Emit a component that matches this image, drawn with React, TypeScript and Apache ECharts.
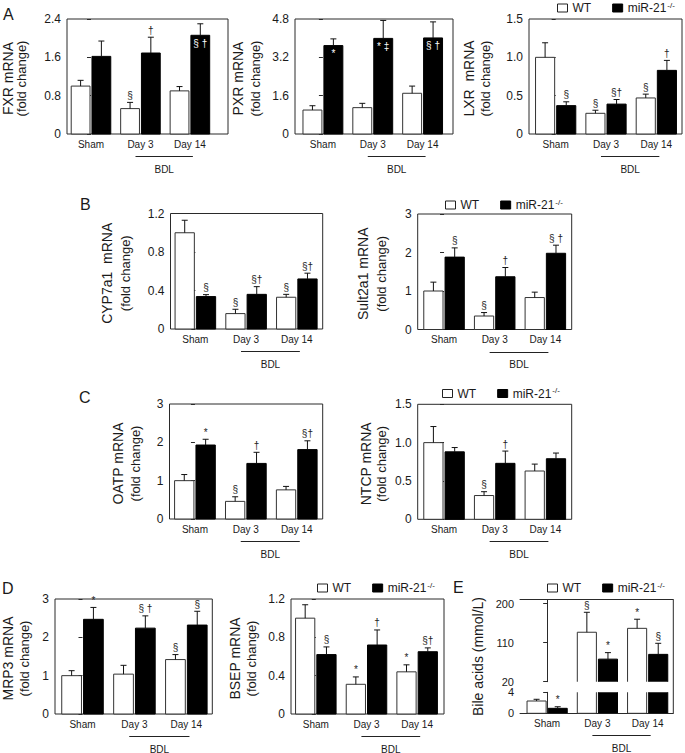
import React, { useEffect, useRef } from 'react';
import * as echarts from 'echarts';

const groups = ['Sham', 'Day 3', 'Day 14'];
const KO = 'miR-21-/-';

// A: FXR
const fxrWT = [1.0, 0.53, 0.9];
const fxrWTErr = [0.12, 0.13, 0.09];
const fxrWTNote = ['', '§', ''];
const fxrKO = [1.62, 1.69, 2.06];
const fxrKOErr = [0.32, 0.33, 0.24];
const fxrKONote = ['', '†', '§ †'];
const fxrTicks = [0, 0.8, 1.6, 2.4];
// A: PXR
const pxrWT = [1.0, 1.1, 1.7];
const pxrWTErr = [0.18, 0.18, 0.3];
const pxrWTNote = ['', '', ''];
const pxrKO = [3.69, 3.99, 4.01];
const pxrKOErr = [0.28, 0.75, 0.67];
const pxrKONote = ['*', '* ‡', '§ †'];
const pxrTicks = [0, 1.6, 3.2, 4.8];
// A: LXR
const lxrWT = [1.0, 0.27, 0.47];
const lxrWTErr = [0.19, 0.04, 0.05];
const lxrWTNote = ['', '§', '§'];
const lxrKO = [0.37, 0.39, 0.83];
const lxrKOErr = [0.05, 0.06, 0.13];
const lxrKONote = ['§', '§†', '†'];
const lxrTicks = [0, 0.5, 1.0, 1.5];
// B: CYP7a1
const cypWT = [1.0, 0.16, 0.33];
const cypWTErr = [0.13, 0.045, 0.03];
const cypWTNote = ['', '§', '§'];
const cypKO = [0.337, 0.36, 0.52];
const cypKOErr = [0.02, 0.08, 0.06];
const cypKONote = ['§', '§†', '§†'];
const cypTicks = [0, 0.4, 0.8, 1.2];
// B: Sult2a1
const sultWT = [1.0, 0.35, 0.83];
const sultWTErr = [0.23, 0.09, 0.14];
const sultWTNote = ['', '§', ''];
const sultKO = [1.88, 1.37, 1.98];
const sultKOErr = [0.24, 0.24, 0.21];
const sultKONote = ['§', '†', '§ †'];
const sultTicks = [0, 1, 2, 3];
// C: OATP
const oatpWT = [1.0, 0.46, 0.76];
const oatpWTErr = [0.16, 0.12, 0.09];
const oatpWTNote = ['', '§', ''];
const oatpKO = [1.93, 1.45, 1.81];
const oatpKOErr = [0.15, 0.29, 0.23];
const oatpKONote = ['*', '†', '§†'];
const oatpTicks = [0, 1, 2, 3];
// C: NTCP
const ntcpWT = [1.0, 0.31, 0.63];
const ntcpWTErr = [0.21, 0.05, 0.09];
const ntcpWTNote = ['', '§', ''];
const ntcpKO = [0.88, 0.73, 0.79];
const ntcpKOErr = [0.056, 0.16, 0.074];
const ntcpKONote = ['', '†', ''];
const ntcpTicks = [0, 0.5, 1.0, 1.5];
// D: MRP3
const mrp3WT = [1.0, 1.04, 1.42];
const mrp3WTErr = [0.13, 0.23, 0.13];
const mrp3WTNote = ['', '', '§'];
const mrp3KO = [2.47, 2.24, 2.32];
const mrp3KOErr = [0.31, 0.32, 0.36];
const mrp3KONote = ['*', '§ †', '§'];
const mrp3Ticks = [0, 1, 2, 3];
// D: BSEP
const bsepWT = [1.0, 0.31, 0.44];
const bsepWTErr = [0.14, 0.077, 0.073];
const bsepWTNote = ['', '*', '*'];
const bsepKO = [0.62, 0.72, 0.65];
const bsepKOErr = [0.08, 0.157, 0.04];
const bsepKONote = ['§', '†', '§†'];
const bsepTicks = [0, 0.4, 0.8, 1.2];
// E: Bile acids
const bileWT = [2.34, 134, 143];
const bileWTErr = [0.33, 46, 21];
const bileWTNote = ['', '§', '*'];
const bileKO = [0.95, 72, 83];
const bileKOErr = [0.3, 15, 25.5];
const bileKONote = ['*', '*', '§'];
const bileUpperTicks = [20, 110, 200];
const bileUpperMax = 209;
const bileLowerTicks = [0, 4];

const FONT = 'Liberation Sans, Arial, Helvetica, sans-serif';
const AX = '#2a2a2a';
const TXT = '#1a1a1a';
const BAR_W = 0.38;
const OFF = 0.21;

const panels = [
  { n1: 'FXR mRNA', wt: fxrWT, wtErr: fxrWTErr, wtNote: fxrWTNote, ko: fxrKO, koErr: fxrKOErr, koNote: fxrKONote, koIn: [false, false, true], ticks: fxrTicks, dec: 1, box: [67, 19, 228, 134], xr: [-0.485, 2.77], nx: [7.5, 21.5] },
  { n1: 'PXR mRNA', wt: pxrWT, wtErr: pxrWTErr, wtNote: pxrWTNote, ko: pxrKO, koErr: pxrKOErr, koNote: pxrKONote, koIn: [true, true, true], ticks: pxrTicks, dec: 1, box: [295, 19, 453, 134], xr: [-0.56, 2.61], nx: [237.5, 255.5] },
  { n1: 'LXR  mRNA', wt: lxrWT, wtErr: lxrWTErr, wtNote: lxrWTNote, ko: lxrKO, koErr: lxrKOErr, koNote: lxrKONote, koIn: [false, false, false], ticks: lxrTicks, dec: 1, box: [529, 19, 682, 134], xr: [-0.53, 2.51], nx: [468.5, 485.5] },
  { n1: 'CYP7a1  mRNA', wt: cypWT, wtErr: cypWTErr, wtNote: cypWTNote, ko: cypKO, koErr: cypKOErr, koNote: cypKONote, koIn: [false, false, false], ticks: cypTicks, dec: 1, box: [170.5, 213.5, 322.7, 329], xr: [-0.49, 2.51], nx: [106.5, 125.5] },
  { n1: 'Sult2a1 mRNA', wt: sultWT, wtErr: sultWTErr, wtNote: sultWTNote, ko: sultKO, koErr: sultKOErr, koNote: sultKONote, koIn: [false, false, false], ticks: sultTicks, dec: 0, box: [417.7, 214, 571.7, 329.5], xr: [-0.52, 2.52], nx: [363, 381.5] },
  { n1: 'OATP mRNA', wt: oatpWT, wtErr: oatpWTErr, wtNote: oatpWTNote, ko: oatpKO, koErr: oatpKOErr, koNote: oatpKONote, koIn: [false, false, false], ticks: oatpTicks, dec: 0, box: [169.5, 404, 322.7, 519], xr: [-0.5, 2.51], nx: [117.5, 135] },
  { n1: 'NTCP mRNA', wt: ntcpWT, wtErr: ntcpWTErr, wtNote: ntcpWTNote, ko: ntcpKO, koErr: ntcpKOErr, koNote: ntcpKONote, koIn: [false, false, false], ticks: ntcpTicks, dec: 1, box: [417.7, 404.3, 571.7, 519.3], xr: [-0.52, 2.52], nx: [365.5, 381.5] },
  { n1: 'MRP3 mRNA', wt: mrp3WT, wtErr: mrp3WTErr, wtNote: mrp3WTNote, ko: mrp3KO, koErr: mrp3KOErr, koNote: mrp3KONote, koIn: [false, false, false], ticks: mrp3Ticks, dec: 0, box: [55, 599, 212.3, 714], xr: [-0.53, 2.5], nx: [7.5, 24] },
  { n1: 'BSEP mRNA', wt: bsepWT, wtErr: bsepWTErr, wtNote: bsepWTNote, ko: bsepKO, koErr: bsepKOErr, koNote: bsepKONote, koIn: [false, false, false], ticks: bsepTicks, dec: 1, box: [291, 599, 444, 714], xr: [-0.49, 2.53], nx: [235, 251] },
];

const eBox = { left: 520, right: 673.3, top: 599.7, upBottom: 681.7, lowTop: 692.3, bottom: 713.3, xr: [-0.54, 2.51] };

const legendPos = [[557, 8], [445, 205], [442, 393.5], [317, 588], [547, 588]];
const letters: [string, number, number][] = [['A', 3, 14.5], ['B', 80, 204], ['C', 79, 397], ['D', 2, 588], ['E', 453, 587.5]];

const fmt = (dec: number) => (v: number) => (v === 0 ? '0' : v.toFixed(dec));

function barSeries(name: string, g: number, offset: number, vals: number[], errs: number[], notes: string[], inside: boolean[] | null, fill: string, stroke: string, clip: boolean) {
  return {
    type: 'custom',
    name,
    xAxisIndex: g,
    yAxisIndex: g,
    clip,
    silent: true,
    itemStyle: { color: fill, borderColor: stroke, borderWidth: 1 },
    encode: { x: 0, y: 1 },
    data: vals.map((v, i) => [i + offset, v, errs[i]]),
    renderItem: (params: any, api: any) => {
      const cs = params.coordSys;
      const yTop = cs.y;
      const yBot = cs.y + cs.height;
      const x = api.value(0);
      const v = api.value(1);
      const e = api.value(2);
      const tl = api.coord([x - BAR_W / 2, v]);
      const br = api.coord([x + BAR_W / 2, 0]);
      const top = api.coord([x, v + e]);
      const cx = (tl[0] + br[0]) / 2;
      const children: any[] = [
        { type: 'rect', shape: { x: tl[0], y: tl[1], width: br[0] - tl[0], height: br[1] - tl[1] }, style: { fill, stroke, lineWidth: 1 } },
      ];
      const ey1 = Math.min(Math.max(tl[1], yTop), yBot);
      const ey2 = Math.min(Math.max(top[1], yTop), yBot);
      if (ey1 - ey2 > 0.1) {
        children.push({ type: 'line', shape: { x1: cx, y1: ey1, x2: cx, y2: ey2 }, style: { stroke: '#111', lineWidth: 1 } });
      }
      if (top[1] >= yTop && top[1] <= yBot) {
        children.push({ type: 'line', shape: { x1: cx - 3, y1: top[1], x2: cx + 3, y2: top[1] }, style: { stroke: '#111', lineWidth: 1 } });
      }
      const note = notes[params.dataIndex];
      const isIn = inside ? inside[params.dataIndex] : false;
      const ny = isIn ? tl[1] + 8 : top[1] - 2;
      if (note && ny >= yTop && ny <= yBot) {
        children.push({
          type: 'text',
          x: cx,
          y: ny,
          style: { text: note, fill: isIn ? '#fff' : '#222', fontSize: 10, fontFamily: FONT, align: 'center', verticalAlign: isIn ? 'middle' : 'bottom' },
        });
      }
      return { type: 'group', children };
    },
  };
}

function buildOption() {
  const grid: any[] = [];
  const xAxis: any[] = [];
  const yAxis: any[] = [];
  const series: any[] = [];
  const xLabel = { customValues: [0, 1, 2], formatter: (v: number) => groups[Math.round(v)], fontSize: 10, margin: 5, color: TXT, fontFamily: FONT };

  panels.forEach((p, i) => {
    grid.push({ left: p.box[0], top: p.box[1], width: p.box[2] - p.box[0], height: p.box[3] - p.box[1], show: true, borderColor: AX, borderWidth: 1 });
    xAxis.push({ type: 'value', gridIndex: i, min: p.xr[0], max: p.xr[1], axisLine: { show: false }, axisTick: { show: false }, splitLine: { show: false }, axisLabel: xLabel });
    yAxis.push({
      type: 'value', gridIndex: i, min: p.ticks[0], max: p.ticks[p.ticks.length - 1],
      axisLine: { show: false },
      axisTick: { show: true, length: 4, customValues: p.ticks, lineStyle: { color: AX } },
      axisLabel: { customValues: p.ticks, formatter: fmt(p.dec), fontSize: 12, margin: 6, color: TXT, fontFamily: FONT },
      splitLine: { show: false },
    });
    series.push(barSeries('WT', i, -OFF, p.wt, p.wtErr, p.wtNote, null, '#fff', '#333', false));
    series.push(barSeries(KO, i, OFF, p.ko, p.koErr, p.koNote, p.koIn, '#000', '#000', false));
  });

  // E panel: broken axis -> two grids
  const gU = panels.length;
  const gL = panels.length + 1;
  const w = eBox.right - eBox.left;
  grid.push({ left: eBox.left, top: eBox.top, width: w, height: eBox.upBottom - eBox.top });
  grid.push({ left: eBox.left, top: eBox.lowTop, width: w, height: eBox.bottom - eBox.lowTop });
  xAxis.push({ type: 'value', gridIndex: gU, position: 'top', min: eBox.xr[0], max: eBox.xr[1], axisLine: { show: true, lineStyle: { color: AX, width: 1 } }, axisTick: { show: false }, axisLabel: { show: false }, splitLine: { show: false } });
  xAxis.push({ type: 'value', gridIndex: gL, min: eBox.xr[0], max: eBox.xr[1], axisLine: { show: true, lineStyle: { color: AX, width: 1 } }, axisTick: { show: false }, splitLine: { show: false }, axisLabel: xLabel });
  yAxis.push({
    type: 'value', gridIndex: gU, min: bileUpperTicks[0], max: bileUpperMax,
    axisLine: { show: true, lineStyle: { color: AX, width: 1 } },
    axisTick: { show: true, length: 4, customValues: bileUpperTicks, lineStyle: { color: AX } },
    axisLabel: { customValues: bileUpperTicks, fontSize: 11, margin: 6, color: TXT, fontFamily: FONT },
    splitLine: { show: false },
  });
  yAxis.push({
    type: 'value', gridIndex: gL, min: bileLowerTicks[0], max: bileLowerTicks[bileLowerTicks.length - 1],
    axisLine: { show: true, lineStyle: { color: AX, width: 1 } },
    axisTick: { show: true, length: 4, customValues: bileLowerTicks, lineStyle: { color: AX } },
    axisLabel: { customValues: bileLowerTicks, fontSize: 11, margin: 6, color: TXT, fontFamily: FONT },
    splitLine: { show: false },
  });
  series.push(barSeries('WT', gU, -OFF, bileWT, bileWTErr, bileWTNote, null, '#fff', '#333', true));
  series.push(barSeries(KO, gU, OFF, bileKO, bileKOErr, bileKONote, null, '#000', '#000', true));
  series.push(barSeries('WT', gL, -OFF, bileWT, bileWTErr, bileWTNote, null, '#fff', '#333', true));
  series.push(barSeries(KO, gL, OFF, bileKO, bileKOErr, bileKONote, null, '#000', '#000', true));

  const legend = legendPos.map(([l, c]) => ({
    left: l, top: c - 7, padding: 0, itemGap: 21, itemWidth: 10, itemHeight: 8, icon: 'rect', selectedMode: false,
    formatter: (n: string) => (n === 'WT' ? '{m|WT}' : '{m|miR-21}{sup|-/-}'),
    textStyle: { fontFamily: FONT, color: TXT, fontSize: 12, rich: { m: { fontSize: 12, lineHeight: 14, fontFamily: FONT, color: TXT }, sup: { fontSize: 8, verticalAlign: 'top', fontFamily: FONT, color: TXT, padding: [0, 0, 0, 1] } } },
    data: [
      { name: 'WT', itemStyle: { color: '#fff', borderColor: '#222', borderWidth: 1 } },
      { name: KO, itemStyle: { color: '#000', borderColor: '#000', borderWidth: 1 } },
    ],
  }));

  return { animation: false, textStyle: { fontFamily: FONT }, grid, xAxis, yAxis, series, legend };
}

export default function App() {
  const ref = useRef<HTMLDivElement>(null);
  useEffect(() => {
    if (!ref.current) return;
    const chart = echarts.init(ref.current, null, { renderer: 'svg' });
    chart.setOption(buildOption());
    const graphic: any[] = [];
    letters.forEach(([t, x, y]) => {
      graphic.push({ type: 'text', x, y, style: { text: t, fontSize: 16, fontFamily: FONT, fill: TXT, align: 'left', verticalAlign: 'middle' } });
    });
    // y-axis titles (two rotated lines)
    panels.forEach((p) => {
      const cy = (p.box[1] + p.box[3]) / 2 + 2;
      graphic.push({ type: 'text', x: p.nx[0], y: cy, rotation: Math.PI / 2, style: { text: p.n1, fontSize: 14, fontFamily: FONT, fill: TXT, align: 'center', verticalAlign: 'middle' } });
      graphic.push({ type: 'text', x: p.nx[1], y: cy, rotation: Math.PI / 2, style: { text: '(fold change)', fontSize: 13, fontFamily: FONT, fill: TXT, align: 'center', verticalAlign: 'middle' } });
    });
    const bdlGrids = panels.map((_, i) => i).concat([panels.length + 1]);
    bdlGrids.forEach((g) => {
      const p1 = chart.convertToPixel({ gridIndex: g } as any, [0.9, 0]) as number[];
      const p2 = chart.convertToPixel({ gridIndex: g } as any, [2.06, 0]) as number[];
      const y = Math.round(p1[1] + 22) + 0.5;
      graphic.push({ type: 'line', shape: { x1: p1[0], y1: y, x2: p2[0], y2: y }, style: { stroke: '#222', lineWidth: 1 } });
      graphic.push({ type: 'text', x: (p1[0] + p2[0]) / 2, y: p1[1] + 35, style: { text: 'BDL', fontSize: 10, fontFamily: FONT, fill: TXT, align: 'center', verticalAlign: 'middle' } });
    });
    // E: continuous right border and y-axis name
    const rTop = chart.convertToPixel({ gridIndex: panels.length } as any, [eBox.xr[1], bileUpperMax]) as number[];
    const rBot = chart.convertToPixel({ gridIndex: panels.length + 1 } as any, [eBox.xr[1], 0]) as number[];
    graphic.push({ type: 'line', shape: { x1: rTop[0], y1: rTop[1], x2: rBot[0], y2: rBot[1] }, style: { stroke: AX, lineWidth: 1 } });
    graphic.push({ type: 'text', x: 478, y: (rTop[1] + rBot[1]) / 2, rotation: Math.PI / 2, style: { text: 'Bile acids (mmol/L)', fontSize: 14, fontFamily: FONT, fill: TXT, align: 'center', verticalAlign: 'middle' } });
    chart.setOption({ graphic });
    return () => chart.dispose();
  }, []);
  return <div ref={ref} style={{ position: 'fixed', left: 0, top: 0, width: 685, height: 753, background: '#fff' }} />;
}
